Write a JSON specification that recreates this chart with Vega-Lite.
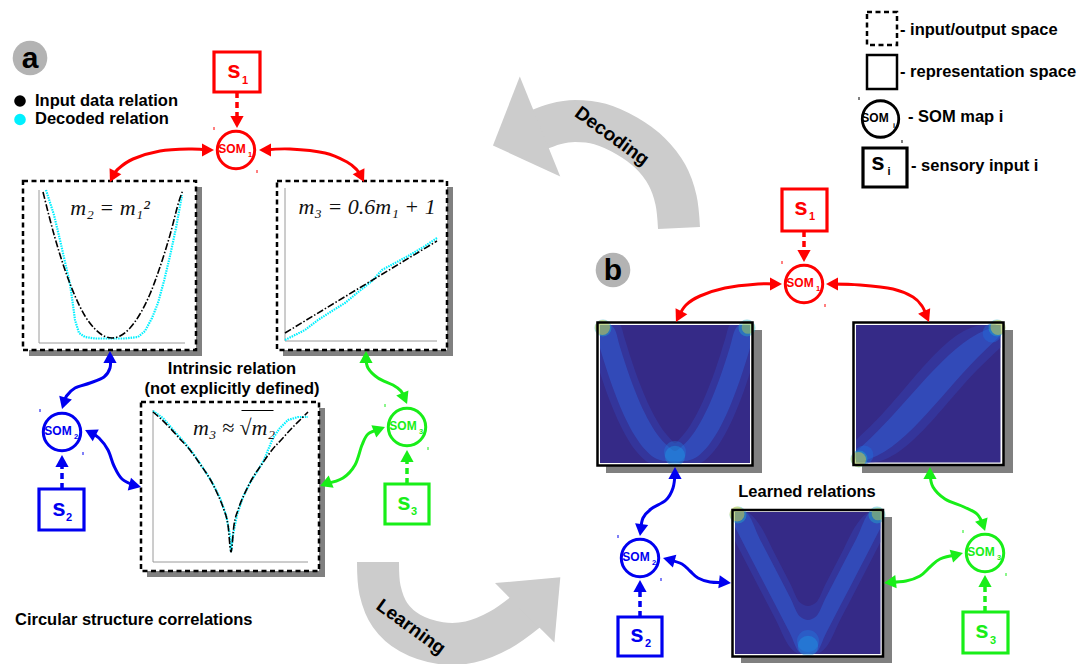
{
"$schema": "https://vega.github.io/schema/vega-lite/v6.json",
"width": 1085, "height": 664, "padding": 0,
"autosize": {"type": "none"},
"background": "white",
"config": {"view": {"stroke": null}, "font": "Liberation Sans"},
"datasets": {
"garr": [
{"id":"dec","i":0,"x":679,"y":228},{"id":"dec","i":1,"x":676,"y":200},{"id":"dec","i":2,"x":667,"y":175},{"id":"dec","i":3,"x":650,"y":153},{"id":"dec","i":4,"x":627,"y":136},{"id":"dec","i":5,"x":600,"y":124},{"id":"dec","i":6,"x":575,"y":121},{"id":"dec","i":7,"x":555,"y":124},{"id":"dec","i":8,"x":536,"y":131},
{"id":"lea","i":0,"x":378,"y":562},{"id":"lea","i":1,"x":380,"y":590},{"id":"lea","i":2,"x":390,"y":615},{"id":"lea","i":3,"x":410,"y":633},{"id":"lea","i":4,"x":440,"y":643},{"id":"lea","i":5,"x":470,"y":642},{"id":"lea","i":6,"x":500,"y":630},{"id":"lea","i":7,"x":528,"y":610}
],
"ghead": [
{"k":"dec","x":516.5,"y":136,"a":158},
{"k":"lea","x":542.5,"y":595,"a":315}
],
"rects": [
{"k":"shadow","x":29,"x2":202,"y":187,"y2":356},
{"k":"shadow","x":283,"x2":453,"y":187,"y2":356},
{"k":"shadow","x":147,"x2":325,"y":408,"y2":577},
{"k":"shadow","x":606,"x2":762,"y":330,"y2":473},
{"k":"shadow","x":862,"x2":1013,"y":330,"y2":473},
{"k":"shadow","x":741,"x2":892,"y":517,"y2":663},
{"k":"panel","x":23,"x2":196,"y":181,"y2":350},
{"k":"panel","x":277,"x2":447,"y":181,"y2":350},
{"k":"panel","x":141,"x2":319,"y":402,"y2":571},
{"k":"hbox","x":597.5,"x2":752.5,"y":322.5,"y2":465.5},
{"k":"hbox","x":853.5,"x2":1003.5,"y":322.5,"y2":465},
{"k":"hbox","x":732.5,"x2":883,"y":510,"y2":656.5},
{"k":"hbg","x":600,"x2":750,"y":325,"y2":463},
{"k":"hbg","x":856,"x2":1000.5,"y":325,"y2":462.5},
{"k":"hbg","x":735,"x2":880.5,"y":512,"y2":654},
{"k":"sbox","c":"r","x":214,"x2":260,"y":52,"y2":92},
{"k":"sbox","c":"b","x":39,"x2":84,"y":489,"y2":530},
{"k":"sbox","c":"g","x":385,"x2":429,"y":484,"y2":524},
{"k":"sbox","c":"r","x":782,"x2":827,"y":189,"y2":231},
{"k":"sbox","c":"b","x":618,"x2":662,"y":617,"y2":656},
{"k":"sbox","c":"g","x":963,"x2":1008,"y":612,"y2":653},
{"k":"sbox","c":"k","x":863,"x2":907,"y":148,"y2":187},
{"k":"legdash","x":867,"x2":897,"y":12,"y2":45},
{"k":"legsolid","x":867,"x2":897,"y":55,"y2":89}
],
"bands": [
{"g":"h1","l":"glow","x":600,"y":325,"y2":372.8},{"g":"h1","l":"glow","x":605,"y":325,"y2":387.7},{"g":"h1","l":"glow","x":610,"y":325,"y2":401.2},{"g":"h1","l":"glow","x":615,"y":325,"y2":413.6},{"g":"h1","l":"glow","x":620,"y":325,"y2":424.6},{"g":"h1","l":"glow","x":625,"y":339.6,"y2":434.3},{"g":"h1","l":"glow","x":630,"y":355.8,"y2":442.7},{"g":"h1","l":"glow","x":635,"y":370.7,"y2":449.8},{"g":"h1","l":"glow","x":640,"y":384.2,"y2":455.6},{"g":"h1","l":"glow","x":645,"y":396.6,"y2":460.2},{"g":"h1","l":"glow","x":650,"y":407.6,"y2":463},{"g":"h1","l":"glow","x":655,"y":417.3,"y2":463},{"g":"h1","l":"glow","x":660,"y":425.7,"y2":463},{"g":"h1","l":"glow","x":665,"y":432.8,"y2":463},{"g":"h1","l":"glow","x":670,"y":438.6,"y2":463},{"g":"h1","l":"glow","x":675,"y":443.2,"y2":463},{"g":"h1","l":"glow","x":680,"y":438.6,"y2":463},{"g":"h1","l":"glow","x":685,"y":432.8,"y2":463},{"g":"h1","l":"glow","x":690,"y":425.7,"y2":463},{"g":"h1","l":"glow","x":695,"y":417.3,"y2":463},{"g":"h1","l":"glow","x":700,"y":407.6,"y2":463},{"g":"h1","l":"glow","x":705,"y":396.6,"y2":460.2},{"g":"h1","l":"glow","x":710,"y":384.2,"y2":455.6},{"g":"h1","l":"glow","x":715,"y":370.7,"y2":449.8},{"g":"h1","l":"glow","x":720,"y":355.8,"y2":442.7},{"g":"h1","l":"glow","x":725,"y":339.6,"y2":434.3},{"g":"h1","l":"glow","x":730,"y":325,"y2":424.6},{"g":"h1","l":"glow","x":735,"y":325,"y2":413.6},{"g":"h1","l":"glow","x":740,"y":325,"y2":401.2},{"g":"h1","l":"glow","x":745,"y":325,"y2":387.7},{"g":"h1","l":"glow","x":750,"y":325,"y2":372.8},
{"g":"h1","l":"core","x":600,"y":325,"y2":348.2},{"g":"h1","l":"core","x":605,"y":325,"y2":364.6},{"g":"h1","l":"core","x":610,"y":325,"y2":379.8},{"g":"h1","l":"core","x":615,"y":329.7,"y2":393.6},{"g":"h1","l":"core","x":620,"y":346.9,"y2":406.2},{"g":"h1","l":"core","x":625,"y":362.8,"y2":417.5},{"g":"h1","l":"core","x":630,"y":377.5,"y2":427.4},{"g":"h1","l":"core","x":635,"y":390.8,"y2":436.1},{"g":"h1","l":"core","x":640,"y":402.9,"y2":443.5},{"g":"h1","l":"core","x":645,"y":413.6,"y2":449.6},{"g":"h1","l":"core","x":650,"y":423.1,"y2":454.4},{"g":"h1","l":"core","x":655,"y":431.2,"y2":457.9},{"g":"h1","l":"core","x":660,"y":438.1,"y2":460.1},{"g":"h1","l":"core","x":665,"y":443.6,"y2":461},{"g":"h1","l":"core","x":670,"y":447.9,"y2":461},{"g":"h1","l":"core","x":675,"y":450.9,"y2":461},{"g":"h1","l":"core","x":680,"y":447.9,"y2":461},{"g":"h1","l":"core","x":685,"y":443.6,"y2":461},{"g":"h1","l":"core","x":690,"y":438.1,"y2":460.1},{"g":"h1","l":"core","x":695,"y":431.2,"y2":457.9},{"g":"h1","l":"core","x":700,"y":423.1,"y2":454.4},{"g":"h1","l":"core","x":705,"y":413.6,"y2":449.6},{"g":"h1","l":"core","x":710,"y":402.9,"y2":443.5},{"g":"h1","l":"core","x":715,"y":390.8,"y2":436.1},{"g":"h1","l":"core","x":720,"y":377.5,"y2":427.4},{"g":"h1","l":"core","x":725,"y":362.8,"y2":417.5},{"g":"h1","l":"core","x":730,"y":346.9,"y2":406.2},{"g":"h1","l":"core","x":735,"y":329.7,"y2":393.6},{"g":"h1","l":"core","x":740,"y":325,"y2":379.8},{"g":"h1","l":"core","x":745,"y":325,"y2":364.6},{"g":"h1","l":"core","x":750,"y":325,"y2":348.2},
{"g":"h2","l":"glow","x":856,"y":439.9,"y2":462.5},{"g":"h2","l":"glow","x":870,"y":426.7,"y2":462.5},{"g":"h2","l":"glow","x":985,"y":325,"y2":362.2},{"g":"h2","l":"glow","x":1000.5,"y":325,"y2":347.6},
{"g":"h2","l":"core","x":856,"y":451.9,"y2":462.5},{"g":"h2","l":"core","x":870,"y":438.7,"y2":458.7},{"g":"h2","l":"core","x":985,"y":330.2,"y2":350.2},{"g":"h2","l":"core","x":1000.5,"y":325,"y2":335.6},
{"g":"h3","l":"glow","x":735,"y":512,"y2":541},{"g":"h3","l":"glow","x":745,"y":512,"y2":560.4},{"g":"h3","l":"glow","x":760,"y":525.4,"y2":589.4},{"g":"h3","l":"glow","x":775,"y":554.3,"y2":618.3},{"g":"h3","l":"glow","x":790,"y":583.3,"y2":647.3},{"g":"h3","l":"glow","x":800,"y":602.6,"y2":654},{"g":"h3","l":"glow","x":808,"y":606,"y2":654},{"g":"h3","l":"glow","x":816,"y":602.6,"y2":654},{"g":"h3","l":"glow","x":826,"y":583.3,"y2":647.3},{"g":"h3","l":"glow","x":841,"y":554.3,"y2":618.3},{"g":"h3","l":"glow","x":856,"y":525.4,"y2":589.4},{"g":"h3","l":"glow","x":871,"y":512,"y2":560.4},{"g":"h3","l":"glow","x":880.5,"y":512,"y2":542},
{"g":"h3","l":"core","x":735,"y":512,"y2":527},{"g":"h3","l":"core","x":745,"y":512,"y2":546.4},{"g":"h3","l":"core","x":760,"y":539.4,"y2":575.4},{"g":"h3","l":"core","x":775,"y":568.3,"y2":604.3},{"g":"h3","l":"core","x":790,"y":597.3,"y2":633.3},{"g":"h3","l":"core","x":800,"y":616.6,"y2":652.6},{"g":"h3","l":"core","x":808,"y":620,"y2":654},{"g":"h3","l":"core","x":816,"y":616.6,"y2":652.6},{"g":"h3","l":"core","x":826,"y":597.3,"y2":633.3},{"g":"h3","l":"core","x":841,"y":568.3,"y2":604.3},{"g":"h3","l":"core","x":856,"y":539.4,"y2":575.4},{"g":"h3","l":"core","x":871,"y":512,"y2":546.4},{"g":"h3","l":"core","x":880.5,"y":512,"y2":528}
],
"blobs": [
{"k":"b1","x":675,"y":452},{"k":"b2","x":675,"y":456},
{"k":"b1","x":808,"y":641},{"k":"b2","x":808,"y":646},
{"k":"b3","x":992,"y":333},{"k":"b3","x":864,"y":455},
{"k":"cy","x":603,"y":328},{"k":"ye","x":602.5,"y":327.5},
{"k":"cy","x":747,"y":328},{"k":"yc","x":748,"y":327.5},
{"k":"cy","x":859,"y":459},{"k":"ye","x":858.5,"y":459.5},
{"k":"cy","x":997,"y":328},{"k":"ye","x":998,"y":327.5},
{"k":"cy","x":738,"y":515},{"k":"ye","x":737,"y":514},
{"k":"cy","x":877,"y":515},{"k":"yc","x":878,"y":514}
],
"rules": [
{"k":"axis","x":39,"y":190,"x2":39,"y2":343},{"k":"axis","x":39,"y":343,"x2":185,"y2":343},
{"k":"axis","x":285,"y":188,"x2":285,"y2":341},{"k":"axis","x":285,"y":341,"x2":437,"y2":341},
{"k":"axis","x":153,"y":410,"x2":153,"y2":562},{"k":"axis","x":153,"y":562,"x2":308,"y2":562},
{"k":"dash","c":"r","x":237,"y":92,"x2":237,"y2":117},
{"k":"dash","c":"b","x":62,"y":489,"x2":62,"y2":466},
{"k":"dash","c":"g","x":407,"y":484,"x2":407,"y2":461},
{"k":"dash","c":"r","x":804,"y":231,"x2":804,"y2":251},
{"k":"dash","c":"b","x":640,"y":617,"x2":640,"y2":591},
{"k":"dash","c":"g","x":985,"y":612,"x2":985,"y2":586},
{"k":"tick","c":"r","x":214,"y":127,"x2":214,"y2":130},{"k":"tick","c":"r","x":257,"y":170,"x2":257,"y2":173},
{"k":"tick","c":"b","x":40,"y":409,"x2":40,"y2":412},{"k":"tick","c":"b","x":83,"y":452,"x2":83,"y2":455},
{"k":"tick","c":"g","x":385,"y":404,"x2":385,"y2":407},{"k":"tick","c":"g","x":428,"y":447,"x2":428,"y2":450},
{"k":"tick","c":"r","x":782,"y":261,"x2":782,"y2":264},{"k":"tick","c":"r","x":825,"y":304,"x2":825,"y2":307},
{"k":"tick","c":"b","x":618,"y":535,"x2":618,"y2":538},{"k":"tick","c":"b","x":661,"y":578,"x2":661,"y2":581},
{"k":"tick","c":"g","x":963,"y":530,"x2":963,"y2":533},{"k":"tick","c":"g","x":1006,"y":573,"x2":1006,"y2":576},
{"k":"tick","c":"k","x":859,"y":97,"x2":859,"y2":100},{"k":"tick","c":"k","x":902,"y":140,"x2":902,"y2":143},
{"k":"over","x":241.5,"y":410.5,"x2":273.5,"y2":410.5}
],
"rel": [
{"s":"L","p":"dec","i":0,"x":46,"y":190},{"s":"L","p":"dec","i":1,"x":54,"y":215},{"s":"L","p":"dec","i":2,"x":60,"y":240},{"s":"L","p":"dec","i":3,"x":65,"y":262},{"s":"L","p":"dec","i":4,"x":70,"y":284},{"s":"L","p":"dec","i":5,"x":73,"y":305},{"s":"L","p":"dec","i":6,"x":75,"y":320},{"s":"L","p":"dec","i":7,"x":79,"y":333},{"s":"L","p":"dec","i":8,"x":85,"y":337},{"s":"L","p":"dec","i":9,"x":95,"y":338.5},{"s":"L","p":"dec","i":10,"x":110,"y":338.5},{"s":"L","p":"dec","i":11,"x":125,"y":338.5},{"s":"L","p":"dec","i":12,"x":138,"y":337},{"s":"L","p":"dec","i":13,"x":145,"y":331},{"s":"L","p":"dec","i":14,"x":152,"y":318},{"s":"L","p":"dec","i":15,"x":158,"y":303},{"s":"L","p":"dec","i":16,"x":164,"y":281},{"s":"L","p":"dec","i":17,"x":170,"y":256},{"s":"L","p":"dec","i":18,"x":176,"y":228},{"s":"L","p":"dec","i":19,"x":182,"y":195},
{"s":"L","p":"in","i":0,"x":43,"y":192},{"s":"L","p":"in","i":1,"x":55,"y":238},{"s":"L","p":"in","i":2,"x":65,"y":270},{"s":"L","p":"in","i":3,"x":75,"y":296},{"s":"L","p":"in","i":4,"x":85,"y":316},{"s":"L","p":"in","i":5,"x":95,"y":329},{"s":"L","p":"in","i":6,"x":105,"y":336.5},{"s":"L","p":"in","i":7,"x":112,"y":338},{"s":"L","p":"in","i":8,"x":120,"y":336},{"s":"L","p":"in","i":9,"x":130,"y":328},{"s":"L","p":"in","i":10,"x":140,"y":314},{"s":"L","p":"in","i":11,"x":150,"y":294},{"s":"L","p":"in","i":12,"x":160,"y":267},{"s":"L","p":"in","i":13,"x":170,"y":235},{"s":"L","p":"in","i":14,"x":180,"y":198},{"s":"L","p":"in","i":15,"x":183,"y":190},
{"s":"R","p":"dec","i":0,"x":285,"y":340},{"s":"R","p":"dec","i":1,"x":305,"y":330},{"s":"R","p":"dec","i":2,"x":318,"y":320},{"s":"R","p":"dec","i":3,"x":332,"y":311},{"s":"R","p":"dec","i":4,"x":345,"y":303},{"s":"R","p":"dec","i":5,"x":357,"y":293},{"s":"R","p":"dec","i":6,"x":362,"y":289},{"s":"R","p":"dec","i":7,"x":372,"y":281},{"s":"R","p":"dec","i":8,"x":382,"y":270},{"s":"R","p":"dec","i":9,"x":395,"y":263},{"s":"R","p":"dec","i":10,"x":410,"y":255},{"s":"R","p":"dec","i":11,"x":425,"y":246},{"s":"R","p":"dec","i":12,"x":437,"y":238},
{"s":"R","p":"in","i":0,"x":285,"y":333},{"s":"R","p":"in","i":1,"x":437,"y":241},
{"s":"B","p":"dec","i":0,"x":153,"y":411},{"s":"B","p":"dec","i":1,"x":163,"y":418},{"s":"B","p":"dec","i":2,"x":175,"y":432},{"s":"B","p":"dec","i":3,"x":185,"y":443},{"s":"B","p":"dec","i":4,"x":195,"y":456},{"s":"B","p":"dec","i":5,"x":203,"y":468},{"s":"B","p":"dec","i":6,"x":212,"y":482},{"s":"B","p":"dec","i":7,"x":220,"y":498},{"s":"B","p":"dec","i":8,"x":226,"y":515},{"s":"B","p":"dec","i":9,"x":230,"y":535},{"s":"B","p":"dec","i":10,"x":231,"y":552},{"s":"B","p":"dec","i":11,"x":233,"y":535},{"s":"B","p":"dec","i":12,"x":237,"y":515},{"s":"B","p":"dec","i":13,"x":243,"y":497},{"s":"B","p":"dec","i":14,"x":250,"y":483},{"s":"B","p":"dec","i":15,"x":258,"y":470},{"s":"B","p":"dec","i":16,"x":264,"y":460},{"s":"B","p":"dec","i":17,"x":268,"y":450},{"s":"B","p":"dec","i":18,"x":273,"y":438},{"s":"B","p":"dec","i":19,"x":280,"y":428},{"s":"B","p":"dec","i":20,"x":288,"y":420},{"s":"B","p":"dec","i":21,"x":298,"y":417},{"s":"B","p":"dec","i":22,"x":308,"y":417},
{"s":"B","p":"in","i":0,"x":153,"y":412},{"s":"B","p":"in","i":1,"x":160,"y":418},{"s":"B","p":"in","i":2,"x":170,"y":428},{"s":"B","p":"in","i":3,"x":180,"y":439},{"s":"B","p":"in","i":4,"x":190,"y":450},{"s":"B","p":"in","i":5,"x":200,"y":464},{"s":"B","p":"in","i":6,"x":210,"y":479},{"s":"B","p":"in","i":7,"x":218,"y":495},{"s":"B","p":"in","i":8,"x":224,"y":510},{"s":"B","p":"in","i":9,"x":228,"y":525},{"s":"B","p":"in","i":10,"x":231,"y":552},{"s":"B","p":"in","i":11,"x":234,"y":525},{"s":"B","p":"in","i":12,"x":238,"y":510},{"s":"B","p":"in","i":13,"x":244,"y":495},{"s":"B","p":"in","i":14,"x":252,"y":479},{"s":"B","p":"in","i":15,"x":262,"y":464},{"s":"B","p":"in","i":16,"x":272,"y":450},{"s":"B","p":"in","i":17,"x":282,"y":439},{"s":"B","p":"in","i":18,"x":292,"y":428},{"s":"B","p":"in","i":19,"x":300,"y":420},{"s":"B","p":"in","i":20,"x":308,"y":412}
],
"conn": [
{"id":"R1","c":"r","i":0,"x":208,"y":150},{"id":"R1","c":"r","i":1,"x":190,"y":149},{"id":"R1","c":"r","i":2,"x":160,"y":151},{"id":"R1","c":"r","i":3,"x":133,"y":159},{"id":"R1","c":"r","i":4,"x":118,"y":169},{"id":"R1","c":"r","i":5,"x":112.7,"y":176.6},
{"id":"R2","c":"r","i":0,"x":265,"y":150},{"id":"R2","c":"r","i":1,"x":290,"y":149},{"id":"R2","c":"r","i":2,"x":325,"y":153},{"id":"R2","c":"r","i":3,"x":347,"y":162},{"id":"R2","c":"r","i":4,"x":357,"y":170},{"id":"R2","c":"r","i":5,"x":361.3,"y":176.6},
{"id":"B1","c":"b","i":0,"x":110,"y":357},{"id":"B1","c":"b","i":1,"x":110,"y":368},{"id":"B1","c":"b","i":2,"x":104,"y":377},{"id":"B1","c":"b","i":3,"x":90,"y":383},{"id":"B1","c":"b","i":4,"x":75,"y":388},{"id":"B1","c":"b","i":5,"x":66.5,"y":396},{"id":"B1","c":"b","i":6,"x":63.8,"y":403.3},
{"id":"B2","c":"b","i":0,"x":90.4,"y":432.7},{"id":"B2","c":"b","i":1,"x":99,"y":438},{"id":"B2","c":"b","i":2,"x":108,"y":450},{"id":"B2","c":"b","i":3,"x":114,"y":466},{"id":"B2","c":"b","i":4,"x":122,"y":479},{"id":"B2","c":"b","i":5,"x":135.2,"y":485.6},
{"id":"G1","c":"g","i":0,"x":366,"y":357},{"id":"G1","c":"g","i":1,"x":368,"y":368},{"id":"G1","c":"g","i":2,"x":378,"y":378},{"id":"G1","c":"g","i":3,"x":393,"y":385},{"id":"G1","c":"g","i":4,"x":401,"y":391},{"id":"G1","c":"g","i":5,"x":404.7,"y":398.5},
{"id":"G2","c":"g","i":0,"x":379.4,"y":429.2},{"id":"G2","c":"g","i":1,"x":368,"y":434},{"id":"G2","c":"g","i":2,"x":362,"y":445},{"id":"G2","c":"g","i":3,"x":355,"y":465},{"id":"G2","c":"g","i":4,"x":343,"y":478},{"id":"G2","c":"g","i":5,"x":325.6,"y":483.8},
{"id":"R3","c":"r","i":0,"x":776,"y":284},{"id":"R3","c":"r","i":1,"x":758,"y":284},{"id":"R3","c":"r","i":2,"x":725,"y":288},{"id":"R3","c":"r","i":3,"x":700,"y":296},{"id":"R3","c":"r","i":4,"x":686,"y":305},{"id":"R3","c":"r","i":5,"x":678.7,"y":316.6},
{"id":"R4","c":"r","i":0,"x":832,"y":284},{"id":"R4","c":"r","i":1,"x":860,"y":285},{"id":"R4","c":"r","i":2,"x":893,"y":289},{"id":"R4","c":"r","i":3,"x":913,"y":297},{"id":"R4","c":"r","i":4,"x":922,"y":306},{"id":"R4","c":"r","i":5,"x":926.6,"y":316.5},
{"id":"B3","c":"b","i":0,"x":675,"y":473},{"id":"B3","c":"b","i":1,"x":673,"y":488},{"id":"B3","c":"b","i":2,"x":666,"y":500},{"id":"B3","c":"b","i":3,"x":651,"y":509},{"id":"B3","c":"b","i":4,"x":643,"y":518},{"id":"B3","c":"b","i":5,"x":640.8,"y":530},
{"id":"B4","c":"b","i":0,"x":668.8,"y":559.6},{"id":"B4","c":"b","i":1,"x":682,"y":564},{"id":"B4","c":"b","i":2,"x":690,"y":571},{"id":"B4","c":"b","i":3,"x":698,"y":578},{"id":"B4","c":"b","i":4,"x":710,"y":582},{"id":"B4","c":"b","i":5,"x":725,"y":582.4},
{"id":"G3","c":"g","i":0,"x":930,"y":473},{"id":"G3","c":"g","i":1,"x":933,"y":487},{"id":"G3","c":"g","i":2,"x":945,"y":499},{"id":"G3","c":"g","i":3,"x":964,"y":507},{"id":"G3","c":"g","i":4,"x":977,"y":514},{"id":"G3","c":"g","i":5,"x":983.2,"y":525.3},
{"id":"G4","c":"g","i":0,"x":957.2,"y":554.6},{"id":"G4","c":"g","i":1,"x":940,"y":559},{"id":"G4","c":"g","i":2,"x":930,"y":567},{"id":"G4","c":"g","i":3,"x":920,"y":576},{"id":"G4","c":"g","i":4,"x":906,"y":581},{"id":"G4","c":"g","i":5,"x":890,"y":582.3}
],
"heads": [
{"c":"r","x":208,"y":150,"a":0},{"c":"r","x":112.7,"y":176.6,"a":117},{"c":"r","x":265,"y":150,"a":180},{"c":"r","x":361.3,"y":176.6,"a":63},{"c":"r","x":237,"y":122,"a":90},
{"c":"b","x":110,"y":357,"a":270},{"c":"b","x":63.8,"y":403.3,"a":107},{"c":"b","x":90.4,"y":432.7,"a":207},{"c":"b","x":135.2,"y":485.6,"a":14},{"c":"b","x":62,"y":461,"a":270},
{"c":"g","x":366,"y":357,"a":270},{"c":"g","x":404.7,"y":398.5,"a":67},{"c":"g","x":379.4,"y":429.2,"a":338},{"c":"g","x":325.6,"y":483.8,"a":158},{"c":"g","x":407,"y":456,"a":270},
{"c":"r","x":776,"y":284,"a":0},{"c":"r","x":678.7,"y":316.6,"a":117},{"c":"r","x":832,"y":284,"a":180},{"c":"r","x":926.6,"y":316.5,"a":66},{"c":"r","x":804,"y":256,"a":90},
{"c":"b","x":675,"y":473,"a":270},{"c":"b","x":640.8,"y":530,"a":98},{"c":"b","x":668.8,"y":559.6,"a":195},{"c":"b","x":725,"y":582.4,"a":6},{"c":"b","x":640,"y":586,"a":270},
{"c":"g","x":930,"y":473,"a":270},{"c":"g","x":983.2,"y":525.3,"a":72},{"c":"g","x":957.2,"y":554.6,"a":345},{"c":"g","x":890,"y":582.3,"a":174},{"c":"g","x":985,"y":581,"a":270}
],
"circ": [
{"k":"som","c":"r","x":236,"y":150},{"k":"som","c":"b","x":62,"y":432},{"k":"som","c":"g","x":407,"y":427},
{"k":"som","c":"r","x":804,"y":284},{"k":"som","c":"b","x":640,"y":558},{"k":"som","c":"g","x":985,"y":553},
{"k":"leg","c":"k","x":880.5,"y":119},
{"k":"lab","c":"k","x":30,"y":58},{"k":"lab","c":"k","x":613,"y":270},
{"k":"dot","c":"k","x":20,"y":101},{"k":"dot","c":"cy","x":20,"y":119.5}
],
"txt": [
{"k":"lab","c":"k","x":30,"y":59,"t":"a"},{"k":"lab","c":"k","x":613,"y":271,"t":"b"},
{"k":"leg","c":"k","x":35,"y":101,"t":"Input data relation"},
{"k":"leg","c":"k","x":35,"y":119,"t":"Decoded relation"},
{"k":"leg","c":"k","x":15,"y":620,"t":"Circular structure correlations"},
{"k":"leg","c":"k","x":900,"y":30,"t":"- input/output space"},
{"k":"leg","c":"k","x":900,"y":72,"t":"- representation space"},
{"k":"leg","c":"k","x":908,"y":117,"t":"- SOM map i"},
{"k":"leg","c":"k","x":911,"y":166,"t":"- sensory input i"},
{"k":"title","c":"k","x":232,"y":369,"t":"Intrinsic relation"},
{"k":"title","c":"k","x":232,"y":389,"t":"(not explicitly defined)"},
{"k":"title","c":"k","x":807,"y":492,"t":"Learned relations"},
{"k":"s","c":"r","x":234,"y":71,"t":"s"},{"k":"sub","c":"r","x":245,"y":81,"t":"1"},
{"k":"s","c":"b","x":59,"y":509,"t":"s"},{"k":"sub","c":"b","x":69,"y":518,"t":"2"},
{"k":"s","c":"g","x":404,"y":503,"t":"s"},{"k":"sub","c":"g","x":414,"y":512,"t":"3"},
{"k":"s","c":"r","x":801,"y":208,"t":"s"},{"k":"sub","c":"r","x":812,"y":217,"t":"1"},
{"k":"s","c":"b","x":637,"y":635,"t":"s"},{"k":"sub","c":"b","x":648,"y":644,"t":"2"},
{"k":"s","c":"g","x":982,"y":631,"t":"s"},{"k":"sub","c":"g","x":993,"y":641,"t":"3"},
{"k":"s","c":"k","x":878,"y":163,"t":"s"},{"k":"sub","c":"k","x":889,"y":172,"t":"i"},
{"k":"som","c":"r","x":232,"y":149,"t":"SOM"},{"k":"somsub","c":"r","x":250,"y":155,"t":"1"},
{"k":"som","c":"b","x":58,"y":431,"t":"SOM"},{"k":"somsub","c":"b","x":76,"y":437,"t":"2"},
{"k":"som","c":"g","x":403,"y":426,"t":"SOM"},{"k":"somsub","c":"g","x":421,"y":432,"t":"3"},
{"k":"som","c":"r","x":800,"y":283,"t":"SOM"},{"k":"somsub","c":"r","x":818,"y":289,"t":"1"},
{"k":"som","c":"b","x":636,"y":557,"t":"SOM"},{"k":"somsub","c":"b","x":654,"y":563,"t":"2"},
{"k":"som","c":"g","x":981,"y":552,"t":"SOM"},{"k":"somsub","c":"g","x":999,"y":558,"t":"3"},
{"k":"som","c":"k","x":875,"y":118,"t":"SOM"},{"k":"somsub","c":"k","x":894,"y":126,"t":"i"},
{"k":"math","c":"k","x":110,"y":208,"t":"m₂ = m₁²"},
{"k":"math","c":"k","x":367,"y":207,"t":"m₃ = 0.6m₁ + 1"},
{"k":"math","c":"k","x":234,"y":428,"t":"m₃ ≈ √m₂"},
{"k":"arr","c":"k","x":612,"y":136,"t":"Decoding","a":36},
{"k":"arr","c":"k","x":411,"y":627,"t":"Learning","a":36}
]
},
"encoding": {
"x": {"field": "x", "type": "quantitative", "scale": {"domain": [0, 1085], "nice": false, "zero": false}, "axis": null},
"y": {"field": "y", "type": "quantitative", "scale": {"domain": [0, 664], "nice": false, "zero": false, "reverse": true}, "axis": null}
},
"layer": [
{"data": {"name": "garr"}, "mark": {"type": "line", "color": "#cccccc", "strokeWidth": 42, "strokeCap": "butt", "interpolate": "cardinal"},
 "encoding": {"detail": {"field": "id"}, "order": {"field": "i", "type": "quantitative"}}},
{"data": {"name": "ghead"}, "transform": [{"filter": "datum.k == 'dec'"}],
 "mark": {"type": "point", "shape": "M0.47,0L-0.47,-1L-0.47,1Z", "filled": true, "color": "#cccccc", "opacity": 1, "size": 11664, "strokeWidth": 0},
 "encoding": {"angle": {"field": "a", "type": "quantitative", "scale": null}}},
{"data": {"name": "ghead"}, "transform": [{"filter": "datum.k == 'lea'"}],
 "mark": {"type": "point", "shape": "M0.6,0L-0.6,-1L-0.6,1Z", "filled": true, "color": "#cccccc", "opacity": 1, "size": 7056, "strokeWidth": 0},
 "encoding": {"angle": {"field": "a", "type": "quantitative", "scale": null}}},
{"data": {"name": "rects"}, "transform": [{"filter": "datum.k == 'shadow'"}],
 "mark": {"type": "rect", "color": "#808080"}, "encoding": {"x2": {"field": "x2"}, "y2": {"field": "y2"}}},
{"data": {"name": "rects"}, "transform": [{"filter": "datum.k == 'panel'"}],
 "mark": {"type": "rect", "fill": "white", "stroke": "black", "strokeWidth": 2.5, "strokeDash": [5, 3.5]}, "encoding": {"x2": {"field": "x2"}, "y2": {"field": "y2"}}},
{"data": {"name": "rects"}, "transform": [{"filter": "datum.k == 'hbox'"}],
 "mark": {"type": "rect", "fill": "white"}, "encoding": {"x2": {"field": "x2"}, "y2": {"field": "y2"}}},
{"data": {"name": "rects"}, "transform": [{"filter": "datum.k == 'hbg'"}],
 "mark": {"type": "rect", "fill": "#352a87"}, "encoding": {"x2": {"field": "x2"}, "y2": {"field": "y2"}}},
{"data": {"name": "bands"}, "transform": [{"filter": "datum.l == 'glow'"}],
 "mark": {"type": "area", "color": "#3446b8", "opacity": 0.4, "interpolate": "monotone"},
 "encoding": {"y2": {"field": "y2"}, "detail": {"field": "g"}}},
{"data": {"name": "bands"}, "transform": [{"filter": "datum.l == 'core'"}],
 "mark": {"type": "area", "color": "#2f5fd6", "opacity": 0.5, "interpolate": "monotone"},
 "encoding": {"y2": {"field": "y2"}, "detail": {"field": "g"}}},
{"data": {"name": "blobs"}, "mark": {"type": "point", "shape": "circle", "filled": true, "strokeWidth": 0},
 "encoding": {
  "fill": {"field": "k", "type": "nominal", "scale": {"domain": ["b1", "b2", "b3", "cy", "ye", "yc"], "range": ["#1f7fe0", "#1aa2e8", "#1f6ee0", "#22b4c8", "#f5d82a", "#b8d048"]}, "legend": null},
  "size": {"field": "k", "type": "ordinal", "scale": {"domain": ["b1", "b2", "b3", "cy", "ye", "yc"], "range": [480, 160, 150, 40, 14, 12]}, "legend": null},
  "opacity": {"field": "k", "type": "ordinal", "scale": {"domain": ["b1", "b2", "b3", "cy", "ye", "yc"], "range": [0.35, 0.45, 0.35, 0.55, 1, 0.9]}, "legend": null}}},
{"data": {"name": "rects"}, "transform": [{"filter": "datum.k == 'hbox'"}],
 "mark": {"type": "rect", "fill": null, "stroke": "black", "strokeWidth": 2.5}, "encoding": {"x2": {"field": "x2"}, "y2": {"field": "y2"}}},
{"data": {"name": "rules"}, "transform": [{"filter": "datum.k == 'axis'"}],
 "mark": {"type": "rule", "color": "#9a9a9a", "strokeWidth": 1}, "encoding": {"x2": {"field": "x2"}, "y2": {"field": "y2"}}},
{"data": {"name": "rel"}, "transform": [{"filter": "datum.p == 'dec'"}],
 "mark": {"type": "line", "color": "#00f0ff", "strokeWidth": 2.2, "strokeDash": [1.5, 1], "interpolate": "linear"},
 "encoding": {"detail": {"field": "s"}, "order": {"field": "i", "type": "quantitative"}}},
{"data": {"name": "rel"}, "transform": [{"filter": "datum.p == 'in'"}],
 "mark": {"type": "line", "color": "black", "strokeWidth": 1.6, "strokeDash": [7, 2, 1.5, 2], "interpolate": "monotone"},
 "encoding": {"detail": {"field": "s"}, "order": {"field": "i", "type": "quantitative"}}},
{"data": {"name": "rules"}, "transform": [{"filter": "datum.k == 'over'"}],
 "mark": {"type": "rule", "color": "black", "strokeWidth": 1}, "encoding": {"x2": {"field": "x2"}, "y2": {"field": "y2"}}},
{"data": {"name": "conn"}, "mark": {"type": "line", "strokeWidth": 3, "interpolate": "cardinal"},
 "encoding": {"detail": {"field": "id"}, "order": {"field": "i", "type": "quantitative"},
  "color": {"field": "c", "type": "nominal", "scale": {"domain": ["r", "b", "g", "k", "cy"], "range": ["#ff0000", "#0000f0", "#18ee18", "#000000", "#00f0ff"]}, "legend": null}}},
{"data": {"name": "rules"}, "transform": [{"filter": "datum.k == 'dash'"}],
 "mark": {"type": "rule", "strokeWidth": 3.5, "strokeDash": [6, 4]},
 "encoding": {"x2": {"field": "x2"}, "y2": {"field": "y2"},
  "color": {"field": "c", "type": "nominal", "scale": {"domain": ["r", "b", "g", "k", "cy"], "range": ["#ff0000", "#0000f0", "#18ee18", "#000000", "#00f0ff"]}, "legend": null}}},
{"data": {"name": "rules"}, "transform": [{"filter": "datum.k == 'tick'"}],
 "mark": {"type": "rule", "strokeWidth": 1},
 "encoding": {"x2": {"field": "x2"}, "y2": {"field": "y2"},
  "color": {"field": "c", "type": "nominal", "scale": {"domain": ["r", "b", "g", "k", "cy"], "range": ["#ff0000", "#0000f0", "#18ee18", "#000000", "#00f0ff"]}, "legend": null}}},
{"data": {"name": "rects"}, "transform": [{"filter": "datum.k == 'sbox'"}],
 "mark": {"type": "rect", "fill": "white", "strokeWidth": 3.2},
 "encoding": {"x2": {"field": "x2"}, "y2": {"field": "y2"},
  "stroke": {"field": "c", "type": "nominal", "scale": {"domain": ["r", "b", "g", "k", "cy"], "range": ["#ff0000", "#0000f0", "#18ee18", "#000000", "#00f0ff"]}, "legend": null}}},
{"data": {"name": "rects"}, "transform": [{"filter": "datum.k == 'legdash'"}],
 "mark": {"type": "rect", "fill": "white", "stroke": "black", "strokeWidth": 2.5, "strokeDash": [5, 3.5]}, "encoding": {"x2": {"field": "x2"}, "y2": {"field": "y2"}}},
{"data": {"name": "rects"}, "transform": [{"filter": "datum.k == 'legsolid'"}],
 "mark": {"type": "rect", "fill": "white", "stroke": "black", "strokeWidth": 2.5}, "encoding": {"x2": {"field": "x2"}, "y2": {"field": "y2"}}},
{"data": {"name": "circ"}, "transform": [{"filter": "datum.k == 'som'"}],
 "mark": {"type": "point", "shape": "circle", "filled": false, "fill": "white", "fillOpacity": 1, "opacity": 1, "strokeWidth": 3, "size": 1400},
 "encoding": {"stroke": {"field": "c", "type": "nominal", "scale": {"domain": ["r", "b", "g", "k", "cy"], "range": ["#ff0000", "#0000f0", "#18ee18", "#000000", "#00f0ff"]}, "legend": null}}},
{"data": {"name": "circ"}, "transform": [{"filter": "datum.k == 'leg'"}],
 "mark": {"type": "point", "shape": "circle", "filled": false, "fill": "white", "fillOpacity": 1, "opacity": 1, "strokeWidth": 2.8, "size": 1330, "stroke": "black"}},
{"data": {"name": "circ"}, "transform": [{"filter": "datum.k == 'lab'"}],
 "mark": {"type": "point", "shape": "circle", "filled": true, "color": "#b3b3b3", "opacity": 1, "size": 1200, "strokeWidth": 0}},
{"data": {"name": "circ"}, "transform": [{"filter": "datum.k == 'dot'"}],
 "mark": {"type": "point", "shape": "circle", "filled": true, "opacity": 1, "size": 135, "strokeWidth": 0},
 "encoding": {"color": {"field": "c", "type": "nominal", "scale": {"domain": ["r", "b", "g", "k", "cy"], "range": ["#ff0000", "#0000f0", "#18ee18", "#000000", "#00f0ff"]}, "legend": null}}},
{"data": {"name": "heads"}, "mark": {"type": "point", "shape": "M1,0L-1,-1.1L-1,1.1Z", "filled": true, "opacity": 1, "size": 144, "strokeWidth": 0},
 "encoding": {"angle": {"field": "a", "type": "quantitative", "scale": null},
  "color": {"field": "c", "type": "nominal", "scale": {"domain": ["r", "b", "g", "k", "cy"], "range": ["#ff0000", "#0000f0", "#18ee18", "#000000", "#00f0ff"]}, "legend": null}}},
{"data": {"name": "txt"}, "transform": [{"filter": "datum.k == 'lab'"}],
 "mark": {"type": "text", "fontSize": 30, "fontWeight": "bold", "align": "center", "baseline": "middle", "color": "black"},
 "encoding": {"text": {"field": "t"}}},
{"data": {"name": "txt"}, "transform": [{"filter": "datum.k == 'leg'"}],
 "mark": {"type": "text", "fontSize": 16.5, "fontWeight": "bold", "align": "left", "baseline": "middle", "color": "black"},
 "encoding": {"text": {"field": "t"}}},
{"data": {"name": "txt"}, "transform": [{"filter": "datum.k == 'title'"}],
 "mark": {"type": "text", "fontSize": 16.5, "fontWeight": "bold", "align": "center", "baseline": "middle", "color": "black"},
 "encoding": {"text": {"field": "t"}}},
{"data": {"name": "txt"}, "transform": [{"filter": "datum.k == 's'"}],
 "mark": {"type": "text", "fontSize": 24, "fontWeight": "bold", "align": "center", "baseline": "middle"},
 "encoding": {"text": {"field": "t"}, "color": {"field": "c", "type": "nominal", "scale": {"domain": ["r", "b", "g", "k", "cy"], "range": ["#ff0000", "#0000f0", "#18ee18", "#000000", "#00f0ff"]}, "legend": null}}},
{"data": {"name": "txt"}, "transform": [{"filter": "datum.k == 'sub'"}],
 "mark": {"type": "text", "fontSize": 11, "fontWeight": "bold", "align": "center", "baseline": "middle"},
 "encoding": {"text": {"field": "t"}, "color": {"field": "c", "type": "nominal", "scale": {"domain": ["r", "b", "g", "k", "cy"], "range": ["#ff0000", "#0000f0", "#18ee18", "#000000", "#00f0ff"]}, "legend": null}}},
{"data": {"name": "txt"}, "transform": [{"filter": "datum.k == 'som'"}],
 "mark": {"type": "text", "fontSize": 12, "fontWeight": "bold", "align": "center", "baseline": "middle"},
 "encoding": {"text": {"field": "t"}, "color": {"field": "c", "type": "nominal", "scale": {"domain": ["r", "b", "g", "k", "cy"], "range": ["#ff0000", "#0000f0", "#18ee18", "#000000", "#00f0ff"]}, "legend": null}}},
{"data": {"name": "txt"}, "transform": [{"filter": "datum.k == 'somsub'"}],
 "mark": {"type": "text", "fontSize": 7.5, "fontWeight": "bold", "align": "center", "baseline": "middle"},
 "encoding": {"text": {"field": "t"}, "color": {"field": "c", "type": "nominal", "scale": {"domain": ["r", "b", "g", "k", "cy"], "range": ["#ff0000", "#0000f0", "#18ee18", "#000000", "#00f0ff"]}, "legend": null}}},
{"data": {"name": "txt"}, "transform": [{"filter": "datum.k == 'math'"}],
 "mark": {"type": "text", "fontSize": 22, "font": "Liberation Serif", "fontStyle": "italic", "align": "center", "baseline": "middle", "color": "#111111"},
 "encoding": {"text": {"field": "t"}}},
{"data": {"name": "txt"}, "transform": [{"filter": "datum.k == 'arr'"}],
 "mark": {"type": "text", "fontSize": 19, "fontWeight": "bold", "align": "center", "baseline": "middle", "color": "black"},
 "encoding": {"text": {"field": "t"}, "angle": {"field": "a", "type": "quantitative", "scale": null}}}
]
}
